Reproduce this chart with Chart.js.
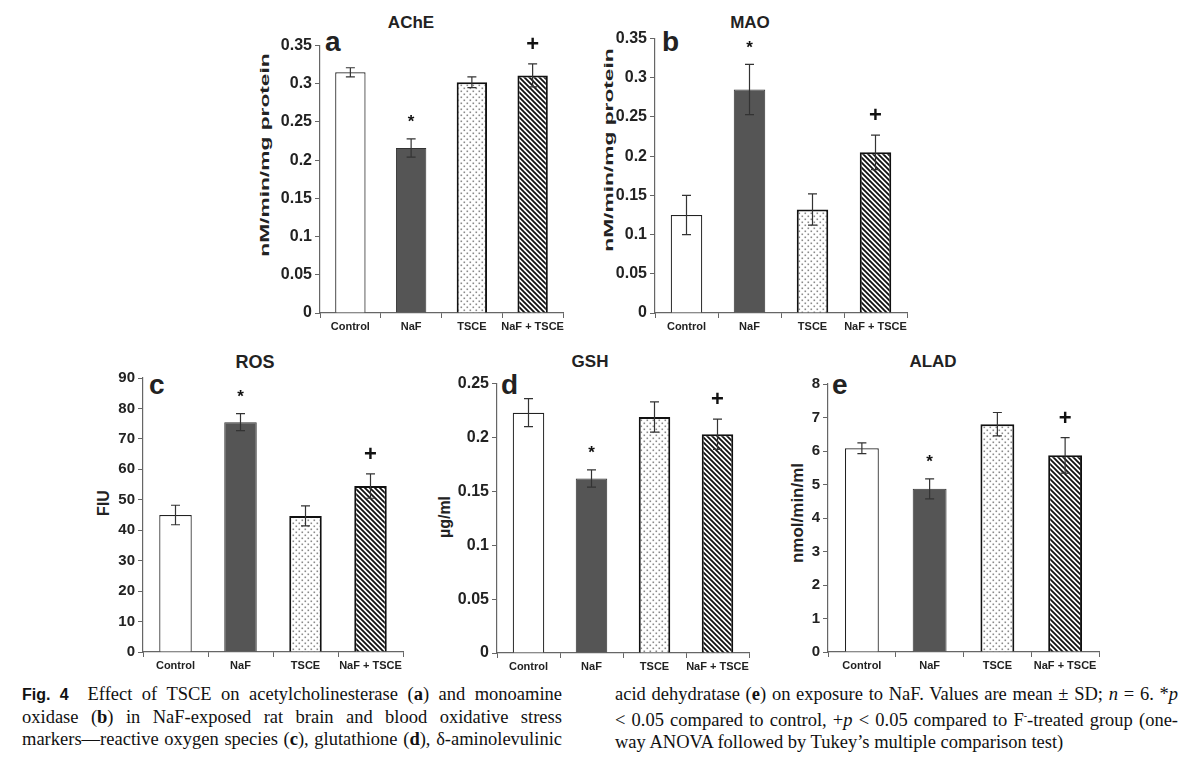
<!DOCTYPE html>
<html lang="en">
<head>
  <meta charset="UTF-8">
  <title>Fig. 4</title>
  <style>
    body { margin: 0; background: #fff; }
    #fig { position: relative; width: 1200px; height: 771px; overflow: hidden; font-family: "Liberation Sans", Arial, sans-serif; color: #222; }
    canvas { position: absolute; }
    .ttl { position: absolute; font-weight: bold; line-height: 1; transform: translateX(-50%); white-space: nowrap; }
    .let { position: absolute; font-weight: bold; font-size: 28px; line-height: 1; }
    .yt { position: absolute; font-weight: bold; line-height: 1; white-space: nowrap; }
    .cap { position: absolute; font-family: "Liberation Serif", "Times New Roman", serif; font-size: 18.5px; line-height: 22px; color: #111; }
    .cap div { white-space: nowrap; text-align: justify; text-align-last: justify; }
    .cap div.last { text-align-last: left; }
    .figno { font-family: "Liberation Sans", Arial, sans-serif; font-weight: bold; font-size: 16px; }
  </style>
</head>
<body>
<div id="fig">
  <div class="ttl" style="left:411px;top:14px;font-size:17px">AChE</div>
  <div class="ttl" style="left:750px;top:14px;font-size:17px">MAO</div>
  <div class="ttl" style="left:255px;top:353px;font-size:18px">ROS</div>
  <div class="ttl" style="left:590px;top:353px;font-size:17px">GSH</div>
  <div class="ttl" style="left:933px;top:353px;font-size:17px">ALAD</div>

  <div class="let" style="left:325px;top:28px">a</div>
  <div class="let" style="left:662px;top:28px">b</div>
  <div class="let" style="left:149px;top:371px">c</div>
  <div class="let" style="left:501px;top:371px">d</div>
  <div class="let" style="left:832px;top:371px">e</div>

  <div class="yt" style="left:264px;top:155px;font-size:13px;transform:translate(-50%,-50%) rotate(-90deg) scaleX(1.75)">nM/min/mg protein</div>
  <div class="yt" style="left:608px;top:150px;font-size:13px;transform:translate(-50%,-50%) rotate(-90deg) scaleX(1.75)">nM/min/mg protein</div>
  <div class="yt" style="left:104px;top:503px;font-size:16px;transform:translate(-50%,-50%) rotate(-90deg)">FIU</div>
  <div class="yt" style="left:445px;top:517px;font-size:16px;transform:translate(-50%,-50%) rotate(-90deg)">µg/ml</div>
  <div class="yt" style="left:797px;top:513px;font-size:17px;transform:translate(-50%,-50%) rotate(-90deg)">nmol/min/ml</div>

  <canvas id="chA"></canvas>
  <canvas id="chB"></canvas>
  <canvas id="chC"></canvas>
  <canvas id="chD"></canvas>
  <canvas id="chE"></canvas>

  <div class="cap" style="left:22px;top:683px;width:540px">
    <div><span class="figno">Fig. 4</span>&nbsp; Effect of TSCE on acetylcholinesterase (<b>a</b>) and monoamine</div>
    <div>oxidase (<b>b</b>) in NaF-exposed rat brain and blood oxidative stress</div>
    <div>markers—reactive oxygen species (<b>c</b>), glutathione (<b>d</b>), δ-aminolevulinic</div>
  </div>
  <div class="cap" style="left:615px;top:683px;width:563px">
    <div>acid dehydratase (<b>e</b>) on exposure to NaF. Values are mean ± SD; <i>n</i> = 6. *<i>p</i></div>
    <div>&lt; 0.05 compared to control, +<i>p</i> &lt; 0.05 compared to F<sup style="font-size:10px">-</sup>-treated group (one-</div>
    <div class="last">way ANOVA followed by Tukey’s multiple comparison test)</div>
  </div>
</div>

<script src="https://cdn.jsdelivr.net/npm/chart.js"></script>
<script>
  // Datos
  const grupos = ["Control", "NaF", "TSCE", "NaF + TSCE"];
  const marcas = ["", "*", "", "+"];

  const acheMedia = [0.315, 0.216, 0.302, 0.311];
  const acheSD = [0.006, 0.012, 0.007, 0.015];
  const acheTicks = [0, 0.05, 0.1, 0.15, 0.2, 0.25, 0.3, 0.35];

  const maoMedia = [0.125, 0.285, 0.132, 0.205];
  const maoSD = [0.025, 0.032, 0.020, 0.022];
  const maoTicks = [0, 0.05, 0.1, 0.15, 0.2, 0.25, 0.3, 0.35];

  const rosMedia = [45.0, 75.5, 44.7, 54.5];
  const rosSD = [3.2, 2.8, 3.3, 4.0];
  const rosTicks = [0, 10, 20, 30, 40, 50, 60, 70, 80, 90];

  const gshMedia = [0.223, 0.162, 0.219, 0.203];
  const gshSD = [0.013, 0.008, 0.014, 0.014];
  const gshTicks = [0, 0.05, 0.1, 0.15, 0.2, 0.25];

  const aladMedia = [6.08, 4.87, 6.80, 5.87];
  const aladSD = [0.16, 0.30, 0.35, 0.53];
  const aladTicks = [0, 1, 2, 3, 4, 5, 6, 7, 8];

  // Tramas de relleno
  function tramaPuntos() {
    const c = document.createElement("canvas");
    c.width = 6; c.height = 6;
    const g = c.getContext("2d");
    g.fillStyle = "#fff"; g.fillRect(0, 0, 6, 6);
    g.fillStyle = "#8a8a8a";
    g.fillRect(0.5, 0.5, 1.6, 1.6);
    g.fillRect(3.5, 3.5, 1.6, 1.6);
    return g.createPattern(c, "repeat");
  }
  function tramaRayas() {
    const s = 5;
    const c = document.createElement("canvas");
    c.width = s; c.height = s;
    const g = c.getContext("2d");
    g.fillStyle = "#fff"; g.fillRect(0, 0, s, s);
    g.strokeStyle = "#111"; g.lineWidth = 1.8;
    g.beginPath();
    g.moveTo(-1, -1); g.lineTo(s + 1, s + 1);
    g.moveTo(-1, s - 1); g.lineTo(1, s + 1);
    g.moveTo(s - 1, -1); g.lineTo(s + 1, 1);
    g.stroke();
    return g.createPattern(c, "repeat");
  }

  const rellenos = ["#ffffff", "#555555", tramaPuntos(), tramaRayas()];
  const bordes = ["#222", "#333", "#111", "#111"];
  const anchos = [1.2, 1, 2, 2];

  // Barras de error y marcas de significancia
  const errorPlugin = {
    id: "errores",
    afterDatasetsDraw(chart) {
      const sd = chart.options.plugins.errores.sd;
      const ds = chart.data.datasets[0].data;
      const xs = chart.scales.x, ys = chart.scales.y;
      const ctx = chart.ctx;
      ctx.save();
      ctx.strokeStyle = "#333";
      ctx.lineWidth = 1.2;
      ds.forEach((v, i) => {
        const x = xs.getPixelForValue(i);
        const yt = ys.getPixelForValue(v + sd[i]);
        const yb = ys.getPixelForValue(v - sd[i]);
        ctx.beginPath();
        ctx.moveTo(x, yt); ctx.lineTo(x, yb);
        ctx.moveTo(x - 4.5, yt); ctx.lineTo(x + 4.5, yt);
        ctx.moveTo(x - 4.5, yb); ctx.lineTo(x + 4.5, yb);
        ctx.stroke();
        const m = marcas[i];
        if (m) {
          ctx.fillStyle = "#111";
          ctx.textAlign = "center";
          ctx.textBaseline = "middle";
          ctx.font = m === "+" ? "bold 22px 'Liberation Sans'" : "bold 17px 'Liberation Sans'";
          ctx.fillText(m, x, yt - (m === "+" ? 19 : 16));
        }
      });
      ctx.restore();
    }
  };

  const YW = 55, XH = 30, PT = 12, PR = 4;

  function crearPanel(id, plotL, plotT, plotR, plotB, media, sd, ticks, tamTick) {
    const cv = document.getElementById(id);
    const w = YW + (plotR - plotL) + PR;
    const h = PT + (plotB - plotT) + XH;
    cv.width = w; cv.height = h;
    cv.style.left = (plotL - YW) + "px";
    cv.style.top = (plotT - PT) + "px";
    cv.style.width = w + "px";
    cv.style.height = h + "px";

    return new Chart(cv.getContext("2d"), {
      type: "bar",
      data: {
        labels: grupos,
        datasets: [{
          data: media,
          backgroundColor: rellenos,
          borderColor: bordes,
          borderWidth: anchos,
          barPercentage: 0.5,
          categoryPercentage: 1.0,
        }],
      },
      options: {
        responsive: false,
        animation: false,
        layout: { padding: { top: PT, right: PR, left: 0, bottom: 0 } },
        plugins: {
          legend: { display: false },
          tooltip: { enabled: false },
          errores: { sd: sd },
        },
        scales: {
          x: {
            afterFit: (s) => { s.height = XH; },
            border: { color: "#666", width: 1.2 },
            grid: { offset: true, drawOnChartArea: false, drawTicks: true, tickLength: 5, color: "#666" },
            ticks: { color: "#222", padding: 2, autoSkip: false, maxRotation: 0, font: { family: "Liberation Sans", weight: "bold", size: 11 } },
          },
          y: {
            min: ticks[0],
            max: ticks[ticks.length - 1],
            afterFit: (s) => { s.width = YW; },
            afterBuildTicks: (s) => { s.ticks = ticks.map((v) => ({ value: v })); },
            border: { color: "#666", width: 1.2 },
            grid: { drawOnChartArea: false, drawTicks: true, tickLength: 5, color: "#666" },
            ticks: { color: "#222", padding: 3, callback: (v) => String(v), font: { family: "Liberation Sans", weight: "bold", size: tamTick } },
          },
        },
      },
      plugins: [errorPlugin],
    });
  }

  crearPanel("chA", 320, 45, 563, 313, acheMedia, acheSD, acheTicks, 16);
  crearPanel("chB", 655, 38, 907, 313, maoMedia, maoSD, maoTicks, 16);
  crearPanel("chC", 143, 378, 403, 652, rosMedia, rosSD, rosTicks, 15);
  crearPanel("chD", 497, 383, 749, 653, gshMedia, gshSD, gshTicks, 16);
  crearPanel("chE", 828, 384, 1099, 652, aladMedia, aladSD, aladTicks, 15);
</script>
</body>
</html>
